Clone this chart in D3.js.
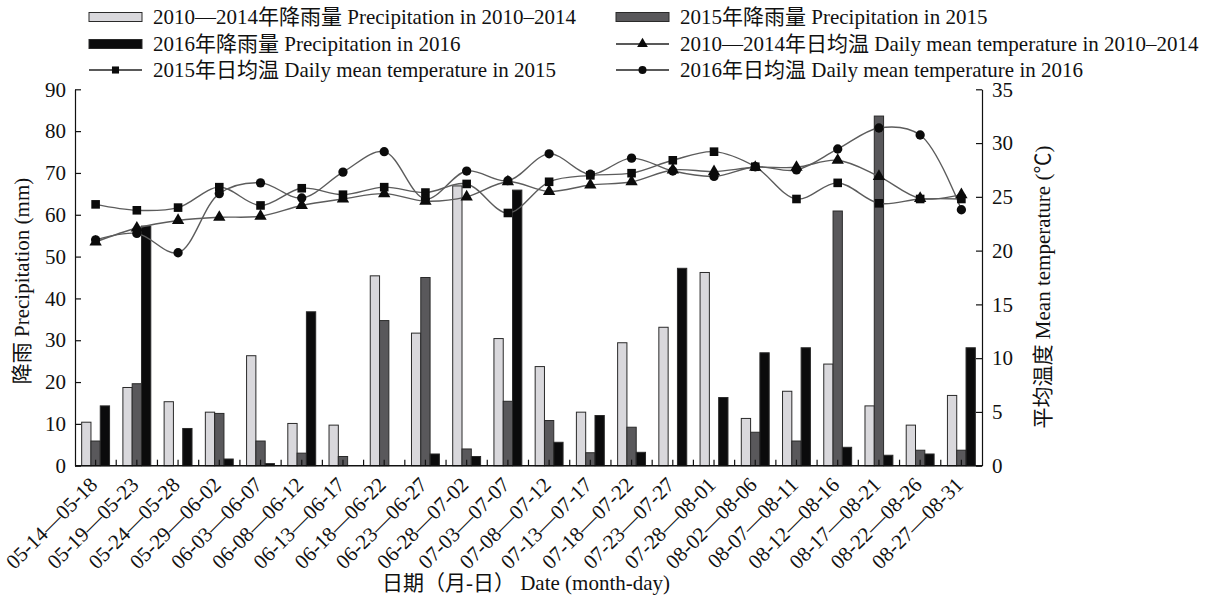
<!DOCTYPE html>
<html>
<head>
<meta charset="utf-8">
<style>
    body { margin: 0; background: #fff; }
    svg text {
        font-family: "Liberation Serif", "Noto Sans CJK SC", serif;
        font-size: 21px;
        fill: #111;
    }
    .domain, .tick line { stroke: #111; stroke-width: 1.2; }
</style>
<script src="https://d3js.org/d3.v7.min.js"></script>
</head>
<body>
<div id="chart"></div>
<script>
// Categories (5-day periods)
const periods = ["05-14—05-18", "05-19—05-23", "05-24—05-28", "05-29—06-02", "06-03—06-07",
    "06-08—06-12", "06-13—06-17", "06-18—06-22", "06-23—06-27", "06-28—07-02", "07-03—07-07",
    "07-08—07-12", "07-13—07-17", "07-18—07-22", "07-23—07-27", "07-28—08-01", "08-02—08-06",
    "08-07—08-11", "08-12—08-16", "08-17—08-21", "08-22—08-26", "08-27—08-31"];

// Precipitation (mm)
const rain1014 = [10.4, 18.7, 15.3, 12.8, 26.3, 10.1, 9.7, 45.4, 31.7, 66.9, 30.4,
    23.7, 12.8, 29.4, 33.1, 46.2, 11.3, 17.8, 24.3, 14.3, 9.7, 16.8];
const rain2015 = [5.9, 19.6, 0, 12.5, 5.9, 3.0, 2.2, 34.7, 45.0, 4.0, 15.4,
    10.8, 3.1, 9.2, 0, 0, 8.0, 5.9, 60.9, 83.6, 3.7, 3.7];
const rain2016 = [14.3, 57.3, 8.9, 1.6, 0.5, 36.8, 0, 0, 2.8, 2.2, 65.9,
    5.6, 12.0, 3.2, 47.2, 16.3, 27.0, 28.2, 4.4, 2.5, 2.8, 28.2];

// Daily mean temperature (°C)
const temp1014 = [20.8, 22.1, 22.8, 23.1, 23.2, 24.2, 24.8, 25.3, 24.6, 25.0, 26.4,
    25.5, 26.1, 26.4, 27.5, 27.35, 27.75, 27.75, 28.4, 26.9, 24.85, 25.2];
const temp2015 = [24.3, 23.75, 24.0, 25.9, 24.2, 25.8, 25.2, 25.9, 25.4, 26.2, 23.5,
    26.4, 27.0, 27.2, 28.4, 29.2, 27.8, 24.8, 26.3, 24.4, 24.8, 24.8];
const temp2016 = [21.0, 21.6, 19.8, 25.3, 26.3, 24.9, 27.3, 29.2, 24.8, 27.4, 26.5,
    29.0, 27.1, 28.6, 27.4, 26.9, 27.8, 27.5, 29.45, 31.4, 30.75, 23.8];

const rainTicks = [0, 10, 20, 30, 40, 50, 60, 70, 80, 90];
const tempTicks = [0, 5, 10, 15, 20, 25, 30, 35];

const W = 1217, H = 599;
const plotL = 75, plotR = 982, plotT = 89.3, plotB = 465.7;
const FONT = "'Liberation Serif', 'Noto Sans CJK SC', serif";

const svg = d3.select("#chart").append("svg")
    .attr("width", W)
    .attr("height", H)
    .attr("font-family", FONT);

const x = d3.scaleBand().domain(periods).range([plotL, plotR]);
const yRain = d3.scaleLinear().domain([0, 90]).range([plotB, plotT]);
const yTemp = d3.scaleLinear().domain([0, 35]).range([plotB, plotT]);

const barW = 9.3;
const barSeries = [
    { values: rain1014, fill: "#d9d8dc", offset: -1.5 },
    { values: rain2015, fill: "#59585b", offset: -0.5 },
    { values: rain2016, fill: "#0b0b0c", offset: 0.5 }
];

// bars
barSeries.forEach(s => {
    svg.append("g").selectAll("rect")
        .data(periods.map((p, i) => ({ p, v: s.values[i] })).filter(d => d.v > 0))
        .join("rect")
        .attr("x", d => x(d.p) + x.bandwidth() / 2 + s.offset * barW)
        .attr("y", d => yRain(d.v))
        .attr("width", barW)
        .attr("height", d => plotB - yRain(d.v))
        .attr("fill", s.fill)
        .attr("stroke", "#2a2a2a")
        .attr("stroke-width", 1);
});

// x axis baseline with inward ticks at boundaries and centres
svg.append("line")
    .attr("x1", plotL).attr("x2", plotR)
    .attr("y1", plotB).attr("y2", plotB)
    .attr("stroke", "#111").attr("stroke-width", 1.4);

const tickXs = [];
periods.forEach((p, i) => {
    tickXs.push(x(p) + x.bandwidth() / 2);
    if (i > 0) tickXs.push(x(p));
});
svg.append("g").selectAll("line")
    .data(tickXs)
    .join("line")
    .attr("x1", d => d).attr("x2", d => d)
    .attr("y1", plotB).attr("y2", plotB - 6)
    .attr("stroke", "#111").attr("stroke-width", 1.2);

// x labels, rotated
svg.append("g").selectAll("text")
    .data(periods)
    .join("text")
    .attr("transform", d => `translate(${x(d) + x.bandwidth() / 2 + 3},486) rotate(-45)`)
    .attr("text-anchor", "end")
    .text(d => d);

// y axes
svg.append("g")
    .attr("transform", `translate(${plotL},0)`)
    .call(d3.axisLeft(yRain).tickValues(rainTicks).tickSize(-6).tickSizeOuter(0).tickPadding(9))
    .attr("font-family", FONT).attr("font-size", 21);

svg.append("g")
    .attr("transform", `translate(${plotR},0)`)
    .call(d3.axisRight(yTemp).tickValues(tempTicks).tickSize(-6).tickSizeOuter(0).tickPadding(10))
    .attr("font-family", FONT).attr("font-size", 21);

// temperature lines
const lineGen = d3.line()
    .x((d, i) => x(periods[i]) + x.bandwidth() / 2)
    .y(d => yTemp(d))
    .curve(d3.curveCatmullRom.alpha(0.5));

const tempSeries = [
    { values: temp1014, marker: d3.symbolTriangle, size: 66 },
    { values: temp2015, marker: d3.symbolSquare, size: 74 },
    { values: temp2016, marker: d3.symbolCircle, size: 68 }
];

tempSeries.forEach(s => {
    svg.append("path")
        .datum(s.values)
        .attr("d", lineGen)
        .attr("fill", "none")
        .attr("stroke", "#5c5c5c")
        .attr("stroke-width", 1.4);
});
tempSeries.forEach(s => {
    svg.append("g").selectAll("path")
        .data(s.values)
        .join("path")
        .attr("transform", (d, i) => `translate(${x(periods[i]) + x.bandwidth() / 2},${yTemp(d)})`)
        .attr("d", d3.symbol().type(s.marker).size(s.size))
        .attr("fill", "#0b0b0b");
});

// axis titles
svg.append("text")
    .attr("transform", "translate(22,281) rotate(-90)")
    .attr("text-anchor", "middle")
    .attr("dy", "0.35em")
    .text("降雨 Precipitation (mm)");

svg.append("text")
    .attr("transform", "translate(1043,287) rotate(-90)")
    .attr("text-anchor", "middle")
    .attr("dy", "0.35em")
    .text("平均温度 Mean temperature (℃)");

svg.append("text")
    .attr("x", 526)
    .attr("y", 583)
    .attr("text-anchor", "middle")
    .attr("dy", "0.35em")
    .text("日期（月-日） Date (month-day)");

// legend
const legendItems = [
    { label: "2010—2014年降雨量 Precipitation in 2010–2014", type: "bar", fill: "#d9d8dc", col: 0, row: 0 },
    { label: "2015年降雨量 Precipitation in 2015", type: "bar", fill: "#59585b", col: 1, row: 0 },
    { label: "2016年降雨量 Precipitation in 2016", type: "bar", fill: "#0b0b0c", col: 0, row: 1 },
    { label: "2010—2014年日均温 Daily mean temperature in 2010–2014", type: "line", marker: d3.symbolTriangle, size: 50, col: 1, row: 1 },
    { label: "2015年日均温 Daily mean temperature in 2015", type: "line", marker: d3.symbolSquare, size: 50, col: 0, row: 2 },
    { label: "2016年日均温 Daily mean temperature in 2016", type: "line", marker: d3.symbolCircle, size: 50, col: 1, row: 2 }
];
const colX = [89, 616];
const rowY = [17, 44, 70];
const swW = 53;

const lg = svg.append("g").selectAll("g")
    .data(legendItems)
    .join("g")
    .attr("transform", d => `translate(${colX[d.col]},${rowY[d.row]})`);

lg.filter(d => d.type === "bar").append("rect")
    .attr("x", 0).attr("y", -4.5)
    .attr("width", swW).attr("height", 9)
    .attr("fill", d => d.fill)
    .attr("stroke", "#2a2a2a");

lg.filter(d => d.type === "line").append("line")
    .attr("x1", 0).attr("x2", swW)
    .attr("stroke", "#222").attr("stroke-width", 1.3);

lg.filter(d => d.type === "line").append("path")
    .attr("transform", `translate(${swW / 2},0)`)
    .attr("d", d => d3.symbol().type(d.marker).size(d.size)())
    .attr("fill", "#0b0b0b");

lg.append("text")
    .attr("x", swW + 11)
    .attr("dy", "0.35em")
    .text(d => d.label);
</script>
</body>
</html>
